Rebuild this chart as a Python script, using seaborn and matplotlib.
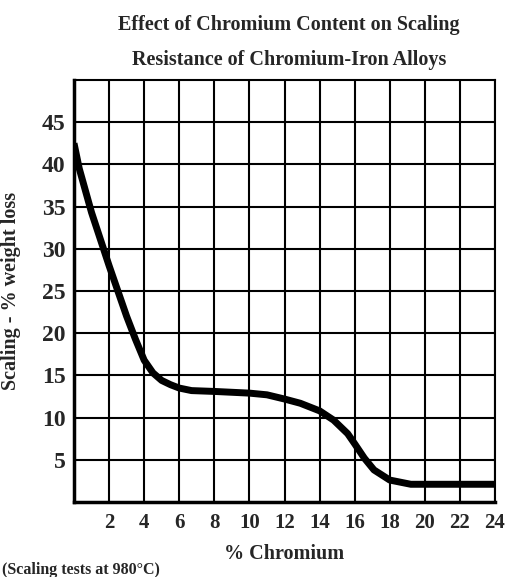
import numpy as np
import pandas as pd
import matplotlib
matplotlib.use("Agg")
import matplotlib.pyplot as plt
import seaborn as sns

# values
chromium = [0, 0.3, 1, 2, 3, 3.5, 4, 4.5, 5, 5.5, 6, 6.7, 8, 10, 11,
            12, 12.9, 14, 14.8, 15.6, 16, 16.55, 17.1, 18, 19.2, 20, 22, 24]
weight_loss = [42.5, 39.5, 34.3, 28.0, 22.0, 19.3, 16.8, 15.3, 14.4, 13.9, 13.5, 13.2,
               13.1, 12.9, 12.7, 12.2, 11.7, 10.8, 9.7, 8.1, 6.9, 5.2, 3.8, 2.6, 2.1, 2.1, 2.1, 2.1]
x_ticks = [2, 4, 6, 8, 10, 12, 14, 16, 18, 20, 22, 24]
y_ticks = [5, 10, 15, 20, 25, 30, 35, 40, 45]

df = pd.DataFrame({"chromium": chromium, "loss": weight_loss})

sns.set_style("white")
plt.rcParams['font.family'] = ['Liberation Serif', 'DejaVu Serif']
plt.rcParams['font.weight'] = 'bold'

fig = plt.figure(figsize=(5.12, 5.77), dpi=100)
ax = fig.add_axes([74 / 512, 75 / 577, 421 / 512, 422 / 577])

sns.lineplot(data=df, x="chromium", y="loss", ax=ax, color="black", linewidth=5,
             solid_capstyle="butt", solid_joinstyle="round", zorder=3)

ax.set_xlim(0, 24)
ax.set_ylim(0, 50)
ax.set_xticks(x_ticks)
ax.set_yticks(y_ticks)
ax.set_xticks(np.arange(0, 25, 2), minor=True)
ax.grid(True, which="both", color="black", linewidth=1.5)
ax.tick_params(axis="both", length=0)
ax.tick_params(axis="x", labelsize=15, pad=8)
ax.tick_params(axis="y", labelsize=17, pad=6)
for lab in ax.get_xticklabels() + ax.get_yticklabels():
    lab.set_fontweight("bold")

for side, lw in [("left", 2.5), ("bottom", 2.5), ("top", 1.5), ("right", 1.5)]:
    ax.spines[side].set_visible(True)
    ax.spines[side].set_color("black")
    ax.spines[side].set_linewidth(lw)

ax.set_xlabel("% Chromium", fontsize=14.5, fontweight="bold")
ax.xaxis.set_label_coords(0.5, -0.1)
ax.set_ylabel("Scaling - % weight loss", fontsize=14.5, fontweight="bold")
ax.yaxis.set_label_coords(-0.125, 0.5)

fig.text(289 / 512, 1 - 25 / 577, "Effect of Chromium Content on Scaling", ha="center", va="center",
         fontsize=14.5, fontweight="bold")
fig.text(289 / 512, 1 - 60 / 577, "Resistance of Chromium-Iron Alloys", ha="center", va="center",
         fontsize=14.5, fontweight="bold")
fig.text(2 / 512, 1 - 570 / 577, "(Scaling tests at 980°C)", ha="left", va="center",
         fontsize=11.5, fontweight="bold")

fig.savefig("out.png", dpi=100)
